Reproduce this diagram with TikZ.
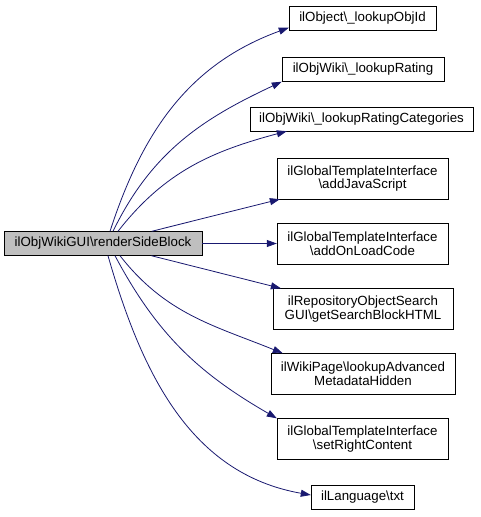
\documentclass[tikz,border=0pt]{standalone}
\usepackage{fontspec}
\setmainfont{Liberation Sans}
\usetikzlibrary{arrows.meta}
\definecolor{edgeblue}{RGB}{25,25,112}
\definecolor{mainfill}{RGB}{191,191,191}

\begin{document}
\begin{tikzpicture}[x=1pt, y=-1pt,
    fn/.style={draw=black, fill=white, inner sep=1pt, minimum height=24pt,
               align=center, font=\fontsize{13.3}{13.6}\selectfont},
    arr/.style={-{Triangle[length=10pt,width=7pt]}, color=edgeblue, line width=0.8pt},
]
\useasboundingbox (0,0) rectangle (480,517);
\node[fn, fill=mainfill, minimum width=198pt] (render) at (103,243.5) {ilObjWikiGUI\textbackslash renderSideBlock};
\node[fn, minimum width=147pt] (objid)   at (362.5,18.5) {ilObject\textbackslash\_lookupObjId};
\node[fn, minimum width=162pt] (rating)  at (363,69.5)   {ilObjWiki\textbackslash\_lookupRating};
\node[fn, minimum width=223pt] (ratcat)  at (361.5,119)  {ilObjWiki\textbackslash\_lookupRatingCategories};
\node[fn, minimum width=171pt, minimum height=41pt] (addjs)   at (362.5,178.5) {ilGlobalTemplateInterface\\\textbackslash addJavaScript};
\node[fn, minimum width=171pt, minimum height=41pt] (onload)  at (362.5,243.5) {ilGlobalTemplateInterface\\\textbackslash addOnLoadCode};
\node[fn, minimum width=180pt, minimum height=41pt] (search)  at (363,309)     {ilRepositoryObjectSearch\\GUI\textbackslash getSearchBlockHTML};
\node[fn, minimum width=184pt, minimum height=41pt] (wikipg)  at (363,374)     {ilWikiPage\textbackslash lookupAdvanced\\MetadataHidden};
\node[fn, minimum width=171pt, minimum height=41pt] (rightc)  at (362.5,439)   {ilGlobalTemplateInterface\\\textbackslash setRightContent};
\node[fn, minimum width=103pt] (txt)     at (362.5,497.5) {ilLanguage\textbackslash txt};

% calls going up
\draw[arr] ([xshift=7pt]render.north)  to[out=72, in=200] ([yshift=3pt]objid.south west);
\draw[arr] ([xshift=10pt]render.north) to[out=64, in=205] (rating.south west);
\draw[arr] ([xshift=15pt]render.north) to[out=52, in=195] ([xshift=37pt]ratcat.south west);
\draw[arr] (render) -- (addjs);
\draw[arr] (render) -- (onload);
% calls going down
\draw[arr] (render) -- (search);
\draw[arr] ([xshift=17pt]render.south) to[out=-52, in=158] ([xshift=12pt]wikipg.north west);
\draw[arr] ([xshift=12pt]render.south) to[out=-62, in=150] (rightc.north west);
\draw[arr] ([xshift=5pt]render.south)  to[out=-74, in=170] ([yshift=2.5pt]txt.west);
\end{tikzpicture}
\end{document}
